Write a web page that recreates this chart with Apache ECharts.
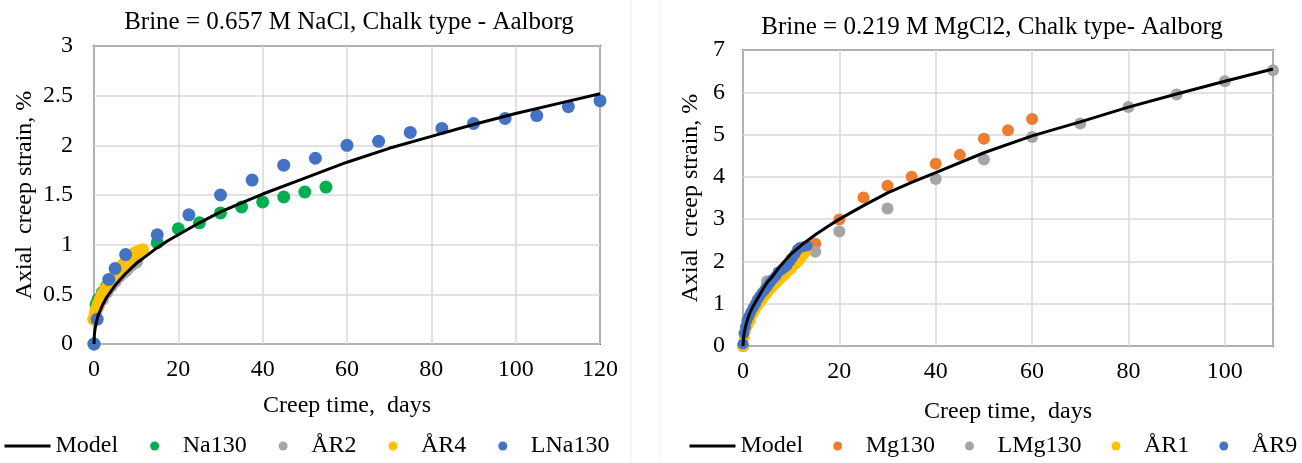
<!DOCTYPE html>
<html>
<head>
<meta charset="utf-8">
<script src="https://cdn.jsdelivr.net/npm/echarts@6/dist/echarts.min.js"></script>
<style>
  html, body { margin: 0; padding: 0; background: #fff; }
  #chart { width: 1302px; height: 463px; }
</style>
</head>
<body>
<div id="chart"></div>
<script>
// left panel: 0.657 M NaCl   [days, strain %]
const naModel = [[0, 0], [0.1, 0.1], [0.25, 0.15], [0.5, 0.21], [1, 0.29], [1.5, 0.34], [2, 0.39], [3, 0.47], [4, 0.53],
  [5, 0.59], [6, 0.64], [7.5, 0.71], [10, 0.81], [12.5, 0.89], [15, 0.97], [17.5, 1.04], [20, 1.1], [25, 1.22],
  [30, 1.33], [35, 1.42], [40, 1.51], [50, 1.67], [60, 1.83], [70, 1.97], [80, 2.09], [90, 2.21],
  [100, 2.32], [110, 2.42], [120, 2.52]]
const na130 = [[0, 0], [0.5, 0.4], [1, 0.45], [2, 0.52], [3, 0.58], [5, 0.65], [7.5, 0.74], [10, 0.83], [15, 1.02],
  [20, 1.16], [25, 1.22], [30, 1.32], [35, 1.38], [40, 1.43], [45, 1.48], [50, 1.53], [55, 1.58]]
const ar2 = [[0, 0.25], [0.5, 0.33], [1, 0.38], [2, 0.45], [3, 0.52], [4, 0.58], [5, 0.63], [6, 0.68], [7, 0.72],
  [8, 0.76], [9, 0.8], [10, 0.83]]
const ar4 = [[0, 0.25], [0.3, 0.3], [0.6, 0.35], [1, 0.4], [1.5, 0.45], [2, 0.5], [2.5, 0.53], [3, 0.56], [3.5, 0.6],
  [4, 0.63], [4.5, 0.66], [5, 0.69], [5.5, 0.72], [6, 0.75], [6.5, 0.78], [7, 0.8], [7.5, 0.83], [8, 0.85],
  [8.5, 0.87], [9, 0.89], [9.5, 0.91], [10, 0.92], [10.5, 0.93], [11, 0.94], [11.5, 0.95]]
const lna130 = [[0, 0], [0.75, 0.25], [3.5, 0.65], [5, 0.76], [7.5, 0.9], [15, 1.1], [22.5, 1.3], [30, 1.5],
  [37.5, 1.65], [45, 1.8], [52.5, 1.87], [60, 2.0], [67.5, 2.04], [75, 2.13], [82.5, 2.17], [90, 2.22],
  [97.5, 2.27], [105, 2.3], [112.5, 2.39], [120, 2.45]]

// right panel: 0.219 M MgCl2
const mgModel = [[0, 0], [0.1, 0.18], [0.25, 0.3], [0.5, 0.45], [1, 0.65], [1.5, 0.8], [2, 0.92], [3, 1.12], [4, 1.32],
  [5, 1.5], [6, 1.63], [7.5, 1.86], [10, 2.18], [12.5, 2.42], [15, 2.63], [17.5, 2.82], [20, 3.0], [25, 3.32],
  [30, 3.62], [35, 3.87], [40, 4.1], [50, 4.57], [60, 4.97], [70, 5.3], [80, 5.65], [90, 5.96],
  [100, 6.26], [110, 6.55]]
const mg130 = [[0, 0], [5, 1.45], [10, 2.05], [15, 2.42], [20, 2.99], [25, 3.51], [30, 3.79], [35, 4.0], [40, 4.31],
  [45, 4.52], [50, 4.9], [55, 5.1], [60, 5.37]]
const lmg130 = [[0, 0], [2.5, 0.95], [5, 1.53], [10, 1.87], [15, 2.23], [20, 2.71], [30, 3.25], [40, 3.95], [50, 4.41],
  [60, 4.94], [70, 5.26], [80, 5.65], [90, 5.95], [100, 6.26], [110, 6.52]]
const ar1 = [[0, 0], [0.25, 0.2], [0.5, 0.35], [0.75, 0.45], [1, 0.5], [1.5, 0.6], [2, 0.75], [2.5, 0.85], [3, 0.95],
  [3.5, 1.02], [4, 1.1], [4.5, 1.18], [5, 1.25], [5.5, 1.32], [6, 1.38], [6.5, 1.45], [7, 1.5], [7.5, 1.56],
  [8, 1.62], [8.5, 1.67], [9, 1.73], [9.5, 1.78], [10, 1.83], [10.5, 1.9], [11, 1.95], [11.5, 2.0], [12, 2.08],
  [12.5, 2.15], [13, 2.22]]
const ar9 = [[0, 0.05], [0.2, 0.3], [0.5, 0.45], [0.8, 0.6], [1.2, 0.7], [1.6, 0.8], [2.1, 0.9], [2.6, 1.0],
  [3, 1.1], [3.5, 1.18], [4, 1.26], [4.5, 1.33], [5, 1.4], [5.6, 1.5], [6.2, 1.58], [6.8, 1.65], [7.3, 1.75],
  [8, 1.8], [8.5, 1.85], [9.1, 1.9], [9.7, 2.0], [10.2, 2.08], [10.8, 2.18], [11.3, 2.28], [11.8, 2.33],
  [12.5, 2.35], [13.3, 2.37]]

const font = "'Liberation Serif', 'Times New Roman', serif"
const txt = { fontFamily: font, fontSize: 24, color: '#000' }

function scatter(name, data, color, size, idx) {
  return {
    name: name,
    type: 'scatter',
    xAxisIndex: idx,
    yAxisIndex: idx,
    symbolSize: size,
    itemStyle: { color: color, opacity: 1 },
    data: data
  }
}
function model(data, idx) {
  return {
    name: 'Model',
    type: 'line',
    xAxisIndex: idx,
    yAxisIndex: idx,
    showSymbol: false,
    symbol: 'none',
    smooth: false,
    lineStyle: { color: '#000', width: 3 },
    itemStyle: { color: '#000' },
    data: data
  }
}
function xAx(idx, max, gap) {
  return {
    type: 'value', gridIndex: idx, min: 0, max: max, interval: 20,
    name: 'Creep time,  days', nameLocation: 'middle', nameGap: gap,
    nameTextStyle: txt,
    axisLine: { show: false }, axisTick: { show: false },
    axisLabel: Object.assign({ margin: 14, showMaxLabel: idx === 0 }, txt),
    splitLine: { show: true, lineStyle: { color: '#d9d9d9', width: 1.5 } }
  }
}
function yAx(idx, max, interval, gap, margin) {
  return {
    type: 'value', gridIndex: idx, min: 0, max: max, interval: interval,
    name: 'Axial  creep strain, %', nameLocation: 'middle', nameGap: gap,
    nameTextStyle: txt,
    axisLine: { show: false }, axisTick: { show: false },
    axisLabel: Object.assign({ margin: margin }, txt),
    splitLine: { show: true, lineStyle: { color: '#d9d9d9', width: 1.5 } }
  }
}
const legendBase = {
  itemWidth: 46,
  itemHeight: 9,
  itemGap: 34,
  padding: 0,
  textStyle: txt
}
const modelLegend = { name: 'Model', itemStyle: { opacity: 0 }, lineStyle: { color: '#000', width: 3 } }

const chart = echarts.init(document.getElementById('chart'), null, { renderer: 'canvas' })
chart.setOption({
  animation: false,
  backgroundColor: '#fff',
  title: [
    { text: 'Brine = 0.657 M NaCl, Chalk type - Aalborg', left: 344, top: 5, textAlign: 'center',
      textStyle: Object.assign({}, txt, { fontWeight: 'normal', fontSize: 25 }) },
    { text: 'Brine = 0.219 M MgCl2, Chalk type- Aalborg', left: 987, top: 10, textAlign: 'center',
      textStyle: Object.assign({}, txt, { fontWeight: 'normal', fontSize: 25 }) }
  ],
  grid: [
    { left: 94, top: 46, width: 506, height: 298, show: true, borderColor: '#000', borderWidth: 1.5 },
    { left: 743, top: 50, width: 530, height: 296, show: true, borderColor: '#000', borderWidth: 1.5 }
  ],
  xAxis: [xAx(0, 120, 50), xAx(1, 110, 54)],
  yAxis: [yAx(0, 3, 0.5, 57, 21), yAx(1, 7, 1, 40, 18)],
  legend: [
    Object.assign({}, legendBase, {
      left: 3, top: 434, itemGap: 32,
      data: [modelLegend, { name: 'Na130', icon: 'circle' }, { name: 'ÅR2', icon: 'circle' },
        { name: 'ÅR4', icon: 'circle' }, { name: 'LNa130', icon: 'circle' }]
    }),
    Object.assign({}, legendBase, {
      left: 688, top: 434, itemGap: 30,
      data: [modelLegend, { name: 'Mg130', icon: 'circle' }, { name: 'LMg130', icon: 'circle' },
        { name: 'ÅR1', icon: 'circle' }, { name: 'ÅR9', icon: 'circle' }]
    })
  ],
  graphic: [
    { type: 'line', shape: { x1: 631, y1: 0, x2: 631, y2: 463 }, style: { stroke: '#ececec', lineWidth: 1 } },
    { type: 'line', shape: { x1: 660, y1: 0, x2: 660, y2: 463 }, style: { stroke: '#f2f2f2', lineWidth: 1 } }
  ],
  series: [
    model(naModel, 0),
    scatter('Na130', na130, '#00b050', 13, 0),
    scatter('ÅR2', ar2, '#a5a5a5', 13, 0),
    scatter('ÅR4', ar4, '#ffc000', 13, 0),
    scatter('LNa130', lna130, '#4472c4', 13, 0),
    model(mgModel, 1),
    scatter('Mg130', mg130, '#ed7d31', 12, 1),
    scatter('LMg130', lmg130, '#a5a5a5', 12, 1),
    scatter('ÅR1', ar1, '#ffc000', 11, 1),
    scatter('ÅR9', ar9, '#4472c4', 11, 1)
  ]
})
</script>
</body>
</html>
